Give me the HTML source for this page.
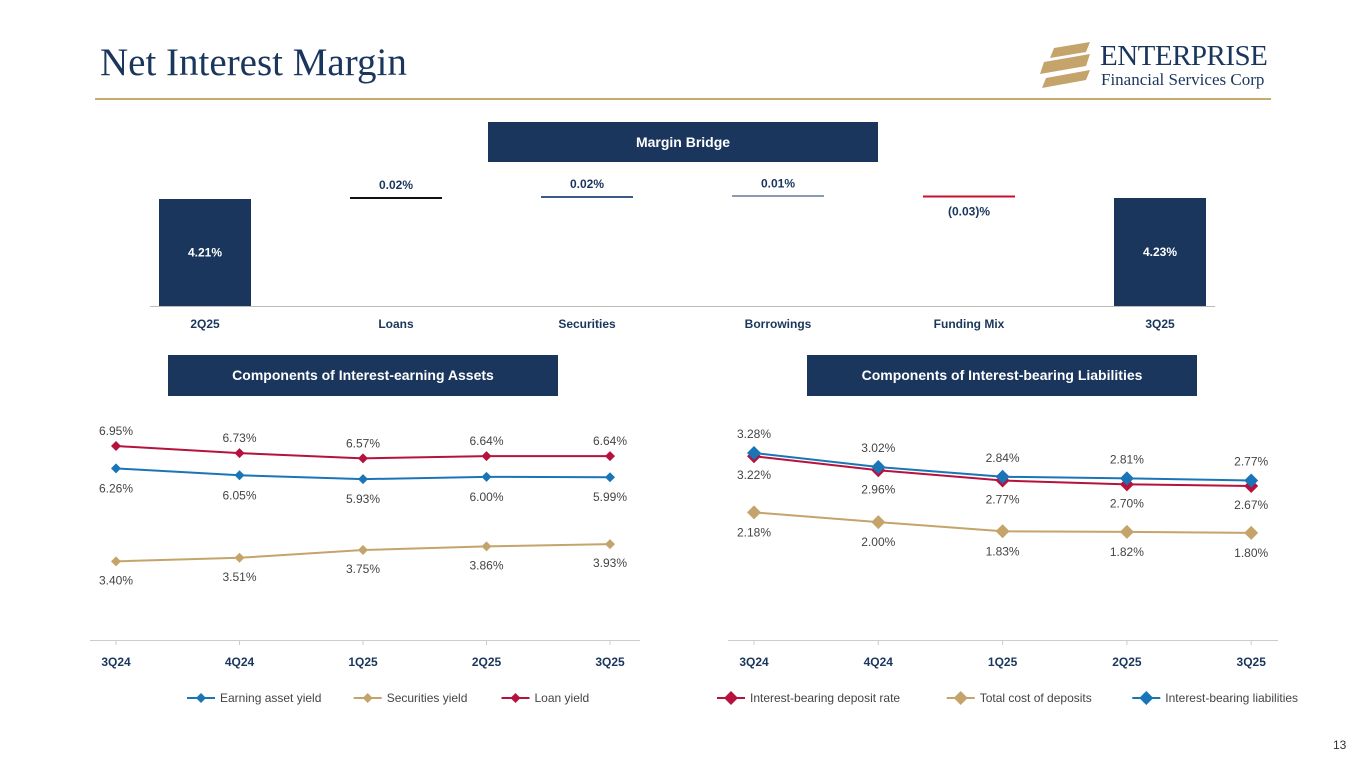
<!DOCTYPE html>
<html><head><meta charset="utf-8"><style>
body{margin:0;width:1365px;height:768px;background:#fff;overflow:hidden;font-family:"Liberation Sans",sans-serif;position:relative}
.box{position:absolute;background:#1a365d;color:#fff;font-weight:bold;font-size:14px;text-align:center}
</style></head><body>
<div style="position:absolute;left:100px;top:40px;font-family:'Liberation Serif',serif;font-size:39px;color:#1b365d">Net Interest Margin</div>
<div style="position:absolute;left:95px;top:98px;width:1176px;height:2px;background:#c8a96e"></div>
<div style="position:absolute;left:1040px;top:40px;width:240px;height:52px">
<svg width="60" height="52" style="position:absolute;left:0;top:0"><g fill="#c4a46b"><polygon points="14,8 50,2 46,12 10,18"/><polygon points="4,22 50,14 46,26 0,34"/><polygon points="6,38 50,30 46,40 2,48"/></g></svg>
<div style="position:absolute;left:60px;top:0;font-family:'Liberation Serif',serif;font-size:29px;color:#1b365d;letter-spacing:-0.5px">ENTERPRISE</div>
<div style="position:absolute;left:61px;top:30px;font-family:'Liberation Serif',serif;font-size:17px;color:#1b365d">Financial Services Corp</div>
</div>
<div class="box" style="left:488px;top:122px;width:390px;height:40px;line-height:40px">Margin Bridge</div>
<div class="box" style="left:168px;top:355px;width:390px;height:41px;line-height:41px">Components of Interest-earning Assets</div>
<div class="box" style="left:807px;top:355px;width:390px;height:41px;line-height:41px">Components of Interest-bearing Liabilities</div>
<div style="position:absolute;left:1333px;top:738px;font-size:12px;color:#333">13</div>
<svg id="svg" width="1365" height="768" style="position:absolute;left:0;top:0" font-family="Liberation Sans, sans-serif"></svg>
<script>
const bridgeCats=["2Q25","Loans","Securities","Borrowings","Funding Mix","3Q25"];
const bridgeVals=[4.21,0.02,0.02,0.01,-0.03,4.23];
const bridgeLabels=["4.21%","0.02%","0.02%","0.01%","(0.03)%","4.23%"];
const qCats=["3Q24","4Q24","1Q25","2Q25","3Q25"];
const earningYield=[6.26,6.05,5.93,6.00,5.99];
const securitiesYield=[3.40,3.51,3.75,3.86,3.93];
const loanYield=[6.95,6.73,6.57,6.64,6.64];
const depositRate=[3.22,2.96,2.77,2.70,2.67];
const totalCost=[2.18,2.00,1.83,1.82,1.80];
const liabRate=[3.28,3.02,2.84,2.81,2.77];

const S=document.getElementById('svg'),NS="http://www.w3.org/2000/svg";
function mk(t,a,txt){const e=document.createElementNS(NS,t);for(const k in a)e.setAttribute(k,a[k]);if(txt!==undefined)e.textContent=txt;S.appendChild(e);return e;}
const fmt=v=>v.toFixed(2)+"%";
// Bridge
const bx=i=>205+i*191, by=v=>306-(v-2.07)*50;
let e=mk('line',{x1:150,x2:1215,y1:306.5,y2:306.5,stroke:'#bbb','stroke-width':1});

const stepColors=["","#111","#3a5a8c","#1a365d","#c8102e",""];
let cum=bridgeVals[0];
bridgeCats.forEach((c,i)=>{
  const v=bridgeVals[i];
  if(i==0||i==bridgeCats.length-1){
    const y=by(v);
    e=mk('rect',{x:bx(i)-46,y:y,width:92,height:306-y,fill:'#1a365d'});
    
    e=mk('text',{x:bx(i),y:(y+306)/2+4,'text-anchor':'middle','font-size':12,'font-weight':'bold',fill:'#fff'},bridgeLabels[i]);
    
  }else{
    const nc=cum+v,y=Math.min(by(cum),by(nc));
    e=mk('rect',{x:bx(i)-46,y:y-1,width:92,height:Math.max(Math.abs(by(cum)-by(nc)),i==3?1:2),fill:stepColors[i]});
    
    e=mk('text',{x:bx(i),y:v<0?y+19:y-9,'text-anchor':'middle','font-size':12,'font-weight':'bold',fill:'#1a365d'},bridgeLabels[i]);
    
    cum=nc;
  }
  e=mk('text',{x:bx(i),y:328,'text-anchor':'middle','font-size':12,'font-weight':'bold',fill:'#1a365d'},c);
  
});
// line charts
function lineChart(x0,dx,yf,series,axisX1,axisX2,legX,name){
  e=mk('line',{x1:axisX1,x2:axisX2,y1:640.5,y2:640.5,stroke:'#ccc'});
  
  qCats.forEach((c,i)=>{
    e=mk('line',{x1:x0+i*dx,x2:x0+i*dx,y1:640,y2:645,stroke:'#ccc'});
    
    e=mk('text',{x:x0+i*dx,y:666,'text-anchor':'middle','font-size':12,'font-weight':'bold',fill:'#1a365d'},c);
    
  });
  series.forEach(s=>{
    const pts=s.d.map((v,i)=>[x0+i*dx,yf(v)]);
    e=mk('polyline',{points:pts.map(p=>p.join(',')).join(' '),fill:'none',stroke:s.c,'stroke-width':2});
    
    pts.forEach((p,i)=>{
      const r=s.r;
      e=mk('polygon',{points:`${p[0]},${p[1]-r} ${p[0]+r},${p[1]} ${p[0]},${p[1]+r} ${p[0]-r},${p[1]}`,fill:s.c});
      
      e=mk('text',{x:p[0],y:p[1]+s.off,'text-anchor':'middle','font-size':12,fill:'#444'},fmt(s.d[i]));
      
    });
  });
  let lx=legX;
  series.slice().sort((a,b)=>a.lo-b.lo).forEach(s=>{
    e=mk('line',{x1:lx,x2:lx+28,y1:698,y2:698,stroke:s.c,'stroke-width':2});
    
    const r=s.r;
    mk('polygon',{points:`${lx+14},${698-r} ${lx+14+r},698 ${lx+14},${698+r} ${lx+14-r},698`,fill:s.c});
    e=mk('text',{x:lx+33,y:702,'font-size':12,fill:'#444'},s.t);
    
    lx+=33+s.t.length*6.3+14;
  });
}
lineChart(116,123.5,v=>446+(6.95-v)*32.5,[
 {n:'earning-asset-yield',t:'Earning asset yield',d:earningYield,c:'#1a75b8',off:24,r:5,lo:0},
 {n:'securities-yield',t:'Securities yield',d:securitiesYield,c:'#c4a46b',off:23,r:5,lo:1},
 {n:'loan-yield',t:'Loan yield',d:loanYield,c:'#b5123e',off:-11,r:5,lo:2}
],90,640,187,'assets');
lineChart(754,124.3,v=>453+(3.28-v)*54,[
 {n:'interest-bearing-deposit-rate',t:'Interest-bearing deposit rate',d:depositRate,c:'#b5123e',off:23,r:7,lo:0},
 {n:'total-cost-of-deposits',t:'Total cost of deposits',d:totalCost,c:'#c4a46b',off:24,r:7,lo:1},
 {n:'interest-bearing-liabilities',t:'Interest-bearing liabilities',d:liabRate,c:'#1a75b8',off:-15,r:7,lo:2}
],728,1278,717,'liabilities');
</script>
</body></html>
